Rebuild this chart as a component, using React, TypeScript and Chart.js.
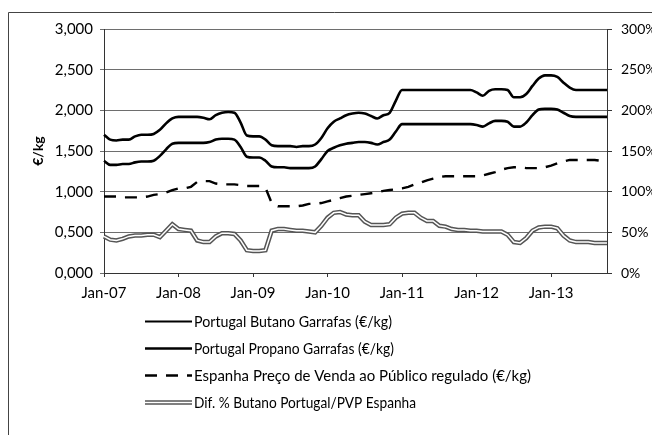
import React, { useEffect, useRef } from 'react';
import { Chart, registerables } from 'chart.js';

Chart.register(...registerables);

const MONTHS = ['Jan', 'Feb', 'Mar', 'Apr', 'May', 'Jun', 'Jul', 'Aug', 'Sep', 'Oct', 'Nov', 'Dec'];
const YEARS = ['07', '08', '09', '10', '11', '12', '13'];
const CATEGORIES: string[] = [];
YEARS.forEach((y, yi) => {
  MONTHS.forEach((m, mi) => {
    if (yi === YEARS.length - 1 && mi > 9) return;
    CATEGORIES.push(`${m}-${y}`);
  });
});

const X_TICK_LABELS = ['Jan-07', 'Jan-08', 'Jan-09', 'Jan-10', 'Jan-11', 'Jan-12', 'Jan-13'];
const LEFT_TICKS = [0, 0.5, 1, 1.5, 2, 2.5, 3];
const RIGHT_TICKS = [0, 50, 100, 150, 200, 250, 300];

const SERIES_NAMES = [
  'Portugal Butano Garrafas (€/kg)',
  'Portugal Propano Garrafas (€/kg)',
  'Espanha Preço de Venda ao Público regulado (€/kg)',
  'Dif. % Butano Portugal/PVP Espanha',
];

// €/kg
const BUTANO = [
  1.38, 1.33, 1.33, 1.34, 1.34, 1.36, 1.37, 1.37, 1.38, 1.44, 1.52, 1.59,
  1.60, 1.60, 1.60, 1.60, 1.60, 1.61, 1.64, 1.65, 1.65, 1.64, 1.55, 1.43,
  1.42, 1.42, 1.38, 1.31, 1.30, 1.30, 1.29, 1.29, 1.29, 1.29, 1.31, 1.40,
  1.50, 1.54, 1.57, 1.59, 1.60, 1.61, 1.61, 1.60, 1.58, 1.61, 1.64, 1.74,
  1.83, 1.83, 1.83, 1.83, 1.83, 1.83, 1.83, 1.83, 1.83, 1.83, 1.83, 1.83,
  1.82, 1.80, 1.84, 1.87, 1.87, 1.86, 1.80, 1.80, 1.85, 1.94, 2.01, 2.02,
  2.02, 2.01, 1.97, 1.93, 1.92, 1.92, 1.92, 1.92, 1.92, 1.92,
];

const PROPANO = [
  1.70, 1.64, 1.63, 1.64, 1.64, 1.68, 1.70, 1.70, 1.71, 1.76, 1.84, 1.90,
  1.92, 1.92, 1.92, 1.92, 1.91, 1.89, 1.94, 1.97, 1.98, 1.97, 1.85, 1.69,
  1.68, 1.68, 1.64, 1.57, 1.56, 1.56, 1.56, 1.55, 1.56, 1.56, 1.58, 1.66,
  1.78, 1.86, 1.90, 1.94, 1.96, 1.97, 1.96, 1.93, 1.90, 1.94, 1.97, 2.12,
  2.25, 2.25, 2.25, 2.25, 2.25, 2.25, 2.25, 2.25, 2.25, 2.25, 2.25, 2.25,
  2.22, 2.18, 2.24, 2.26, 2.26, 2.25, 2.16, 2.16, 2.20, 2.30, 2.39, 2.43,
  2.43, 2.41, 2.34, 2.28, 2.25, 2.25, 2.25, 2.25, 2.25, 2.25,
];

const ESPANHA = [
  0.94, 0.94, 0.94, 0.93, 0.93, 0.93, 0.93, 0.94, 0.96, 0.97, 0.99, 1.02,
  1.04, 1.04, 1.06, 1.12, 1.13, 1.13, 1.10, 1.09, 1.09, 1.09, 1.08, 1.07,
  1.07, 1.07, 1.05, 0.86, 0.82, 0.82, 0.82, 0.82, 0.83, 0.85, 0.85, 0.86,
  0.88, 0.90, 0.92, 0.94, 0.95, 0.96, 0.97, 0.98, 0.99, 1.01, 1.02, 1.03,
  1.04, 1.06, 1.09, 1.11, 1.14, 1.16, 1.18, 1.19, 1.19, 1.19, 1.19, 1.19,
  1.19, 1.20, 1.22, 1.24, 1.27, 1.29, 1.30, 1.30, 1.29, 1.29, 1.29, 1.30,
  1.32, 1.35, 1.37, 1.39, 1.39, 1.39, 1.39, 1.39, 1.38, 1.38,
];

// %
const DIF_PCT = [
  45, 41, 40, 42, 45, 46, 46, 47, 47, 44, 52, 60,
  54, 53, 52, 40, 38, 38, 45, 49, 49, 48, 40, 28,
  27, 27, 28, 52, 54, 54, 53, 52, 52, 51, 50, 58,
  68, 74, 75, 72, 71, 71, 63, 59, 59, 59, 60, 68,
  73, 74, 74, 68, 64, 64, 58, 57, 54, 53, 53, 52,
  52, 51, 51, 51, 51, 47, 38, 37, 43, 52, 56, 57,
  57, 55, 46, 40, 38, 38, 38, 37, 37, 37,
];

const FONT = 'Lato, "Liberation Sans", sans-serif';
const DASH = [12, 9];
const LEGEND_TEXT_WIDTHS = [198, 200, 337, 222];

const frame = {
  id: 'frameAndLegend',
  beforeDraw(chart: any) {
    const { ctx, width, height } = chart;
    ctx.save();
    ctx.fillStyle = '#fff';
    ctx.fillRect(0, 0, width, height);
    ctx.restore();
  },
  afterDraw(chart: any) {
    const { ctx, width, height } = chart;
    ctx.save();
    ctx.strokeStyle = '#444';
    ctx.lineWidth = 1;
    ctx.setLineDash([]);
    ctx.beginPath();
    ctx.moveTo(0.5, height);
    ctx.lineTo(0.5, 4.5);
    ctx.lineTo(width, 4.5);
    ctx.stroke();

    const x0 = 137;
    const x1 = 184;
    const top = 313;
    const gap = 27;
    ctx.font = `16px ${FONT}`;
    ctx.textBaseline = 'middle';
    ctx.textAlign = 'left';
    SERIES_NAMES.forEach((name, i) => {
      const y = Math.round(top + i * gap) + 0.5;
      ctx.lineCap = 'butt';
      if (i === 3) {
        ctx.setLineDash([]);
        ctx.strokeStyle = '#555';
        ctx.lineWidth = 4.5;
        ctx.beginPath(); ctx.moveTo(x0, y); ctx.lineTo(x1, y); ctx.stroke();
        ctx.strokeStyle = '#fff';
        ctx.lineWidth = 1.5;
        ctx.beginPath(); ctx.moveTo(x0, y); ctx.lineTo(x1, y); ctx.stroke();
      } else {
        ctx.setLineDash(i === 2 ? DASH : []);
        ctx.strokeStyle = '#000';
        ctx.lineWidth = i === 0 ? 2 : 2.5;
        ctx.beginPath(); ctx.moveTo(x0, y); ctx.lineTo(x1, y); ctx.stroke();
      }
      ctx.setLineDash([]);
      ctx.fillStyle = '#000';
      ctx.fillText(name, x1 + 2, y, LEGEND_TEXT_WIDTHS[i]);
    });
    ctx.restore();
  },
};

export default function App() {
  const ref = useRef<HTMLCanvasElement | null>(null);

  useEffect(() => {
    if (!ref.current) return;
    const tickFont = { family: FONT, size: 15 };
    const chart = new Chart(ref.current, {
      type: 'line',
      data: {
        labels: CATEGORIES,
        datasets: [
          {
            label: SERIES_NAMES[0],
            data: BUTANO,
            yAxisID: 'y',
            borderColor: '#000',
            borderWidth: 2.6,
            pointRadius: 0,
            cubicInterpolationMode: 'monotone',
            order: 2,
          },
          {
            label: SERIES_NAMES[1],
            data: PROPANO,
            yAxisID: 'y',
            borderColor: '#000',
            borderWidth: 2.6,
            pointRadius: 0,
            cubicInterpolationMode: 'monotone',
            order: 2,
          },
          {
            label: SERIES_NAMES[2],
            data: ESPANHA,
            yAxisID: 'y',
            borderColor: '#000',
            borderWidth: 2.4,
            borderDash: DASH,
            pointRadius: 0,
            tension: 0,
            order: 1,
          },
          {
            label: SERIES_NAMES[3],
            data: DIF_PCT,
            yAxisID: 'y1',
            borderColor: '#555',
            borderWidth: 4.5,
            pointRadius: 0,
            tension: 0,
            order: 4,
          },
          {
            label: SERIES_NAMES[3] + ' (inner)',
            data: DIF_PCT,
            yAxisID: 'y1',
            borderColor: '#fff',
            borderWidth: 1.5,
            pointRadius: 0,
            tension: 0,
            order: 3,
          },
        ],
      },
      options: {
        responsive: false,
        animation: false,
        events: [],
        layout: { padding: { top: 21, left: 0, right: 0, bottom: 132 } },
        plugins: {
          legend: { display: false },
          tooltip: { enabled: false },
          title: { display: false },
        },
        scales: {
          x: {
            type: 'category',
            offset: false,
            grid: {
              display: true,
              drawOnChartArea: false,
              drawTicks: true,
              tickLength: 4,
              color: '#333',
            },
            border: { display: true, color: '#333', width: 1 },
            ticks: {
              autoSkip: false,
              maxRotation: 0,
              minRotation: 0,
              padding: 7,
              color: '#000',
              font: tickFont,
              callback: (_v: any, i: number) =>
                X_TICK_LABELS.includes(CATEGORIES[i]) ? CATEGORIES[i] : null,
            },
            afterFit: (s: any) => { s.height = 30; },
          },
          y: {
            position: 'left',
            min: LEFT_TICKS[0],
            max: LEFT_TICKS[LEFT_TICKS.length - 1],
            afterBuildTicks: (s: any) => { s.ticks = LEFT_TICKS.map((v) => ({ value: v })); },
            grid: { color: '#6e6e6e', lineWidth: 1, drawTicks: true, tickLength: 4 },
            border: { display: true, color: '#333', width: 1 },
            ticks: {
              padding: 7,
              color: '#000',
              font: tickFont,
              callback: (v: any) => Number(v).toFixed(3).replace('.', ','),
            },
            title: {
              display: true,
              text: '€/kg',
              color: '#000',
              font: { family: FONT, size: 14, weight: 'bold' },
              padding: { top: 22, bottom: 0 },
            },
            afterFit: (s: any) => { s.width = 96; },
          },
          y1: {
            position: 'right',
            min: RIGHT_TICKS[0],
            max: RIGHT_TICKS[RIGHT_TICKS.length - 1],
            afterBuildTicks: (s: any) => { s.ticks = RIGHT_TICKS.map((v) => ({ value: v })); },
            grid: { drawOnChartArea: false, drawTicks: true, tickLength: 5, color: '#333' },
            border: { display: true, color: '#333', width: 1 },
            ticks: {
              padding: 9,
              color: '#000',
              font: { family: FONT, size: 14 },
              callback: (v: any) => `${v}%`,
            },
            afterFit: (s: any) => { s.width = 53; },
          },
        },
      },
      plugins: [frame],
    });
    return () => chart.destroy();
  }, []);

  return <canvas ref={ref} width={652} height={427} style={{ display: 'block' }} />;
}
